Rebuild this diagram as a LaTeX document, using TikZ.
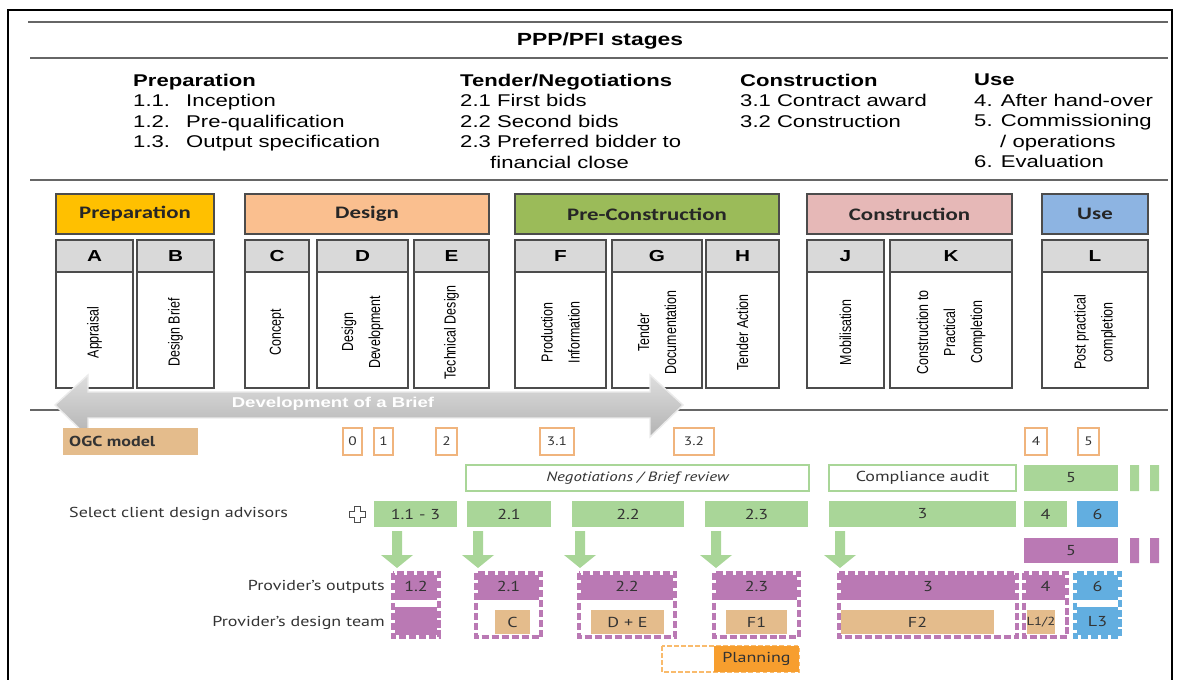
\documentclass[tikz,border=0pt]{standalone}
\usepackage{fontspec}
\setmainfont[FakeStretch=1.3]{Liberation Sans}
\newfontfamily\calibfont[FakeStretch=1.3]{Carlito}
\newfontfamily\vertfont[FakeStretch=0.78]{Liberation Sans}
\newfontfamily\ogcfont[FakeStretch=1.25]{PT Sans}

\definecolor{prepgold}{RGB}{255,192,0}
\definecolor{designpeach}{RGB}{250,191,143}
\definecolor{precongreen}{RGB}{155,187,89}
\definecolor{conpink}{RGB}{230,184,183}
\definecolor{useblue}{RGB}{141,180,226}
\definecolor{hdgray}{RGB}{217,217,217}
\definecolor{ogctan}{RGB}{228,188,140}
\definecolor{numorange}{RGB}{240,180,125}
\definecolor{advgreen}{RGB}{169,214,152}
\definecolor{outpurple}{RGB}{186,121,180}
\definecolor{outblue}{RGB}{98,174,224}
\definecolor{planorange}{RGB}{247,158,46}

\newcommand\fsz[2]{\fontsize{#1}{#2}\selectfont}

\tikzset{
  rule/.style={draw=black!60, line width=1.2pt},
  colhead/.style={anchor=north west, align=left, inner sep=0, font=\fsz{14.5}{17.4}},
  phasebox/.style={draw=black!70, line width=1.1pt},
  phasetext/.style={font=\calibfont\bfseries\fsz{15}{15}, text=black!85},
  letterbox/.style={draw=black!70, line width=1.1pt, fill=hdgray},
  lettertext/.style={font=\bfseries\fsz{13.6}{13.6}},
  stagebox/.style={draw=black!70, line width=1.1pt, fill=white},
  vtext/.style={rotate=90, align=center, inner sep=0, font=\vertfont\fsz{13.6}{23}},
  ogctext/.style={font=\ogcfont\fsz{12.3}{12.3}, text=black!80, inner sep=0},
  numbox/.style={draw=numorange, line width=1.4pt, fill=white},
  dashbox/.style={line width=2.6pt, dash pattern=on 6pt off 2.5pt},
}

\begin{document}
\begin{tikzpicture}[x=0.3mm, y=-0.3mm]
  \useasboundingbox (0,0) rectangle (1182,680);
  % frame and rules
  \draw[line width=1.4pt] (8,680) -- (8,10) -- (1172,10) -- (1172,680);
  \draw[rule] (28,22) -- (1168,22);
  \draw[rule] (30,58) -- (1168,58);
  \draw[rule] (30,180) -- (1168,180);
  \draw[rule] (30,410) -- (1168,410);

  % PPP/PFI stages
  \node[font=\bfseries\fsz{15}{15}] (title) at (600,41) {PPP/PFI stages};
  \node[colhead] (colprep) at (133,74) {\textbf{Preparation}\\
    \makebox[15.9mm][l]{1.1.}Inception\\
    \makebox[15.9mm][l]{1.2.}Pre-qualification\\
    \makebox[15.9mm][l]{1.3.}Output specification};
  \node[colhead] (coltender) at (460,74) {\textbf{Tender/Negotiations}\\
    2.1 First bids\\ 2.2 Second bids\\ 2.3 Preferred bidder to\\
    \hspace*{9mm}financial close};
  \node[colhead] (colcons) at (740,74) {\textbf{Construction}\\
    3.1 Contract award\\ 3.2 Construction};
  \node[colhead] (coluse) at (974,74) {\textbf{Use}\\
    4. After hand-over\\ 5. Commissioning\\ \hspace*{7.8mm}/ operations\\
    6. Evaluation};

  % work stages
  \foreach \nm/\xa/\xb/\txt/\col in {prep/56/214/Preparation/prepgold,
      des/245/489/Design/designpeach, precon/515/779/Pre-Construction/precongreen,
      con/807/1012/Construction/conpink, use/1042/1148/Use/useblue}
    \draw[phasebox, fill=\col] (\xa,194) rectangle (\xb,234)
      node[midway, phasetext] (\nm) {\txt};
  \foreach \nm/\xa/\xb/\txt in {A/56/133/Appraisal, B/137/214/Design Brief,
      C/245/309/Concept, D/317/408/{Design\\Development},
      E/414/489/Technical Design, F/515/606/{Production\\Information},
      G/612/702/{Tender\\Documentation}, H/706/779/Tender Action,
      J/807/884/Mobilisation, K/890/1012/{Construction to\\Practical\\Completion},
      L/1042/1148/{Post practical\\completion}}
  {
    \draw[letterbox] (\xa,240) rectangle (\xb,272) node[midway, lettertext] (hd\nm) {\nm};
    \draw[stagebox] (\xa,272) rectangle (\xb,388) node[midway, vtext, xshift=-2] (st\nm) {\txt};
  }

  % brief arrow
  \path[top color=black!13, bottom color=black!30, draw=black!8, line width=1.2pt]
    (55,405) -- (88,375) -- (88,392) -- (650,392) -- (650,375) -- (683,405)
    -- (650,437) -- (650,418) -- (88,418) -- (88,437) -- cycle;
  \node[text=white, font=\bfseries\fsz{12.2}{12.2}] (brief) at (333,404) {Development of a Brief};

  % OGC model
  \fill[ogctan] (63,428) rectangle (198,455);
  \node[ogctext, font=\ogcfont\bfseries\fsz{12.3}{12.3}, anchor=west] (ogc) at (69,441.5) {OGC model};
  \foreach \nm/\xa/\xb/\txt in {n0/343/362/0, n1/374/393/1, n2/436/457/2, n31/540/574/3.1,
      n32/674/714/3.2, n4/1025/1047/4, n5/1078/1099/5}
    \draw[numbox] (\xa,428) rectangle (\xb,455) node[midway, ogctext, font=\ogcfont\fsz{10.5}{10.5}] (\nm) {\txt};

  % client side
  \draw[advgreen, line width=1.2pt, fill=white] (466,465) rectangle (809,491)
    node[midway, ogctext, font=\ogcfont\itshape\fsz{11.5}{11.5}] (nego) {Negotiations / Brief review};
  \draw[advgreen, line width=1.2pt, fill=white] (829,465) rectangle (1016,491)
    node[midway, ogctext] (audit) {Compliance audit};
  \fill[advgreen] (1024,465) rectangle (1118,491) node[midway, ogctext] (comm5) {5};
  \fill[advgreen] (1130,465) rectangle (1139,491) (1150,465) rectangle (1159,491);

  \node[ogctext, anchor=west] (select) at (69,514) {Select client design advisors};
  \draw[black!70, line width=0.8pt] (354,506) -- (360,506) -- (360,511) -- (365,511)
    -- (365,517) -- (360,517) -- (360,522) -- (354,522) -- (354,517) -- (349,517)
    -- (349,511) -- (354,511) -- cycle;
  \foreach \nm/\xa/\xb/\txt in {a11/374/457/1.1 - 3, a21/467/551/2.1, a22/572/684/2.2,
      a23/705/808/2.3, a3/829/1016/3, a4/1024/1067/4}
    \fill[advgreen] (\xa,501) rectangle (\xb,527) node[midway, ogctext] (\nm) {\txt};
  \fill[outblue] (1077,501) rectangle (1118,527) node[midway, ogctext] (a6) {6};
  \fill[outpurple] (1024,538) rectangle (1118,563) node[midway, ogctext] (p5) {5};
  \fill[outpurple] (1130,538) rectangle (1139,563) (1150,538) rectangle (1159,563);

  \foreach \ax in {397,478,580,716,840}
    \fill[advgreen] (\ax-5,531) -- (\ax+5,531) -- (\ax+5,555) -- (\ax+16,555)
      -- (\ax,568) -- (\ax-16,555) -- (\ax-5,555) -- cycle;

  % provider side
  \node[ogctext, anchor=east] (outputs) at (385,587) {Provider’s outputs};
  \node[ogctext, anchor=east] (team) at (385,623) {Provider’s design team};

  \fill[outpurple] (393,573) rectangle (439,600) node[midway, ogctext] (out12) {1.2};
  \fill[outpurple] (393,607) rectangle (439,637);
  \draw[white, line width=2.6pt] (393,573) rectangle (439,637);
  \draw[outpurple, dashbox] (393,573) rectangle (439,637);
  \foreach \nm/\xa/\xb/\lbl/\ta/\tb/\tm in {o21/476/541/2.1/495/530/C,
      o22/579/675/2.2/591/664/D + E, o23/714/799/2.3/726/787/F1,
      o3/839/1017/3/841/994/F2, o4/1024/1067/4/1027/1055/{\fsz{10}{10}L1/2}}
  {
    \fill[outpurple] (\xa,573) rectangle (\xb,600) node[midway, ogctext] (\nm) {\lbl};
    \fill[ogctan] (\ta,610) rectangle (\tb,634) node[midway, ogctext] (t\nm) {\tm};
    \draw[white, line width=2.6pt] (\xa,573) rectangle (\xb,637);
    \draw[outpurple, dashbox] (\xa,573) rectangle (\xb,637);
  }
  \fill[outblue] (1075,573) rectangle (1120,600) node[midway, ogctext] (o6) {6};
  \fill[outblue] (1075,607) rectangle (1120,637) node[midway, ogctext] (tL3) {L3};
  \draw[white, line width=2.6pt] (1075,573) rectangle (1120,637);
  \draw[outblue, dashbox] (1075,573) rectangle (1120,637);

  % planning
  \draw[planorange!70, line width=1.3pt, dash pattern=on 4pt off 2pt] (662,646) rectangle (799,672);
  \fill[planorange] (714,646) rectangle (799,672) node[midway, ogctext] (plan) {Planning};
\end{tikzpicture}
\end{document}
